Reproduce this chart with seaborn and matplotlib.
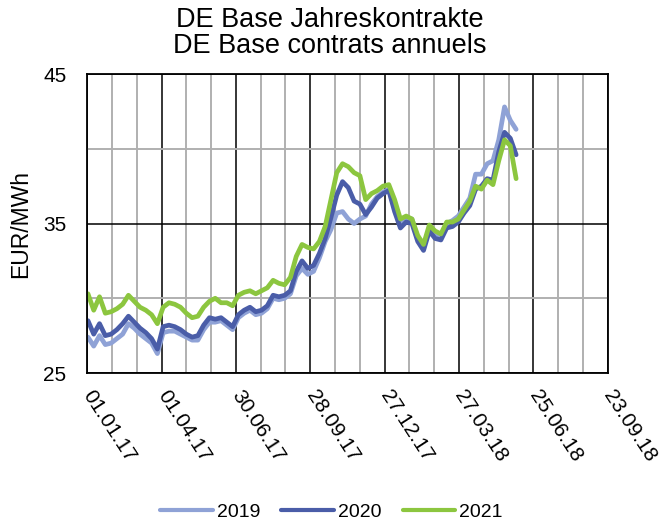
import matplotlib
matplotlib.use("Agg")
import matplotlib.pyplot as plt
import matplotlib.dates as mdates
import numpy as np
import pandas as pd
import seaborn as sns

# weekly readings, starting Monday 02.01.2017
start_date = "2017-01-02"
contract_years = ["2019", "2020", "2021"]
colors = ["#8FA2D6", "#4A5DA8", "#8CC63F"]

cal_2019 = [
    27.4, 26.8, 27.5, 26.9, 27.0, 27.3, 27.6, 28.3, 28.0, 27.6,
    27.3, 27.0, 26.3, 27.7, 27.8, 27.8, 27.6, 27.4, 27.2, 27.2,
    27.9, 28.4, 28.4, 28.5, 28.2, 27.9, 28.7, 29.0, 29.2, 28.9,
    29.0, 29.3, 30.0, 29.9, 30.0, 30.3, 31.5, 32.0, 31.6, 31.8,
    32.7, 33.8, 34.6, 35.7, 35.8, 35.3, 35.0, 35.3, 35.5, 36.3,
    36.8, 37.1, 37.3, 36.0, 35.1, 35.4, 35.3, 34.0, 33.4, 34.7,
    34.3, 34.1, 35.0, 35.2, 35.5, 36.1, 36.7, 38.3, 38.3, 39.0,
    39.2, 40.6, 42.8, 41.9, 41.3,
]
cal_2020 = [
    28.5, 27.6, 28.3, 27.5, 27.6, 27.9, 28.3, 28.8, 28.4, 28.0,
    27.7, 27.3, 26.6, 28.1, 28.2, 28.1, 27.9, 27.6, 27.4, 27.5,
    28.2, 28.7, 28.6, 28.7, 28.4, 28.1, 28.9, 29.2, 29.4, 29.1,
    29.2, 29.5, 30.2, 30.1, 30.2, 30.5, 31.8, 32.5, 32.0, 32.2,
    33.0, 34.0, 35.4, 36.9, 37.8, 37.4, 36.5, 36.3, 35.6, 36.1,
    36.7, 37.0, 37.2, 35.8, 34.7, 35.1, 35.0, 33.8, 33.2, 34.5,
    34.0, 33.9, 34.7, 34.8, 35.1, 35.7, 36.2, 37.3, 37.5, 38.0,
    37.9, 39.8, 41.1, 40.7, 39.6,
]
cal_2021 = [
    30.3, 29.2, 30.1, 29.0, 29.1, 29.3, 29.6, 30.2, 29.8, 29.4,
    29.2, 28.9, 28.3, 29.4, 29.7, 29.6, 29.4, 29.0, 28.7, 28.8,
    29.4, 29.8, 30.0, 29.7, 29.7, 29.5, 30.2, 30.4, 30.5, 30.3,
    30.5, 30.7, 31.2, 31.0, 30.9, 31.4, 32.8, 33.6, 33.4, 33.3,
    33.8, 34.8, 36.6, 38.4, 39.0, 38.8, 38.4, 38.2, 36.6, 37.0,
    37.2, 37.5, 37.6, 36.6, 35.3, 35.5, 35.3, 34.2, 33.6, 34.9,
    34.5, 34.3, 35.1, 35.1, 35.3, 35.9, 36.5, 37.5, 37.3, 37.9,
    37.6, 39.2, 40.6, 40.2, 38.0,
]

tick_start = "2017-01-01"
y_min, y_max = 25, 45

dates = pd.date_range(start_date, periods=len(cal_2019), freq="7D")
df = pd.concat(
    [
        pd.DataFrame({"date": dates, "price": vals, "year": yr})
        for yr, vals in zip(contract_years, [cal_2019, cal_2020, cal_2021])
    ],
    ignore_index=True,
)

sns.set_theme(style="white")
plt.rcParams["font.family"] = ["Liberation Sans", "DejaVu Sans"]
plt.rcParams["text.color"] = "black"

fig = plt.figure(figsize=(6.6, 5.25), dpi=100)
ax = fig.add_axes([0.132, 0.2895, 0.789, 0.5695])

sns.lineplot(
    data=df, x="date", y="price", hue="year", hue_order=contract_years,
    palette=colors, linewidth=3.4, ax=ax, legend=False,
)

major_ticks = pd.date_range(tick_start, periods=8, freq="90D")
minor_ticks = pd.date_range(tick_start, periods=22, freq="30D")
ax.set_xlim(major_ticks[0], major_ticks[-1])
ax.set_ylim(y_min, y_max)
ax.set_xticks(major_ticks)
ax.set_xticks(minor_ticks, minor=True)
ax.xaxis.set_major_formatter(mdates.DateFormatter("%d.%m.%y"))
ax.set_yticks([25, 35, 45])
ax.set_yticks([30, 40], minor=True)

ax.grid(which="major", color="black", linewidth=1.1, zorder=0)
ax.grid(which="minor", color="#B0B0B0", linewidth=1.4, zorder=0)
ax.set_axisbelow(True)
for s in ax.spines.values():
    s.set_color("black")
    s.set_linewidth(1.3)

ax.tick_params(axis="both", which="both", length=0, labelsize=15, colors="black")
ax.tick_params(axis="y", pad=15)
for lbl in ax.get_xticklabels():
    lbl.set_rotation(-57)
    lbl.set_rotation_mode("anchor")
    lbl.set_ha("left")
    lbl.set_va("center")
ax.tick_params(axis="x", pad=14)

ax.set_xlabel("")
ax.set_ylabel("EUR/MWh", fontsize=16.5, color="black", labelpad=8)
fig.suptitle("DE Base Jahreskontrakte\nDE Base contrats annuels",
             fontsize=19.5, y=0.986, x=0.5, va="top", linespacing=1.0,
             color="black")

handles = [plt.Line2D([], [], color=c, linewidth=3) for c in colors]
fig.legend(handles, contract_years, loc="center", bbox_to_anchor=(0.502, 0.025),
           ncol=3, frameon=False, fontsize=14, handlelength=2.7,
           handletextpad=0.2, columnspacing=1.1, labelcolor="black")

fig.savefig("out.png", dpi=100)
